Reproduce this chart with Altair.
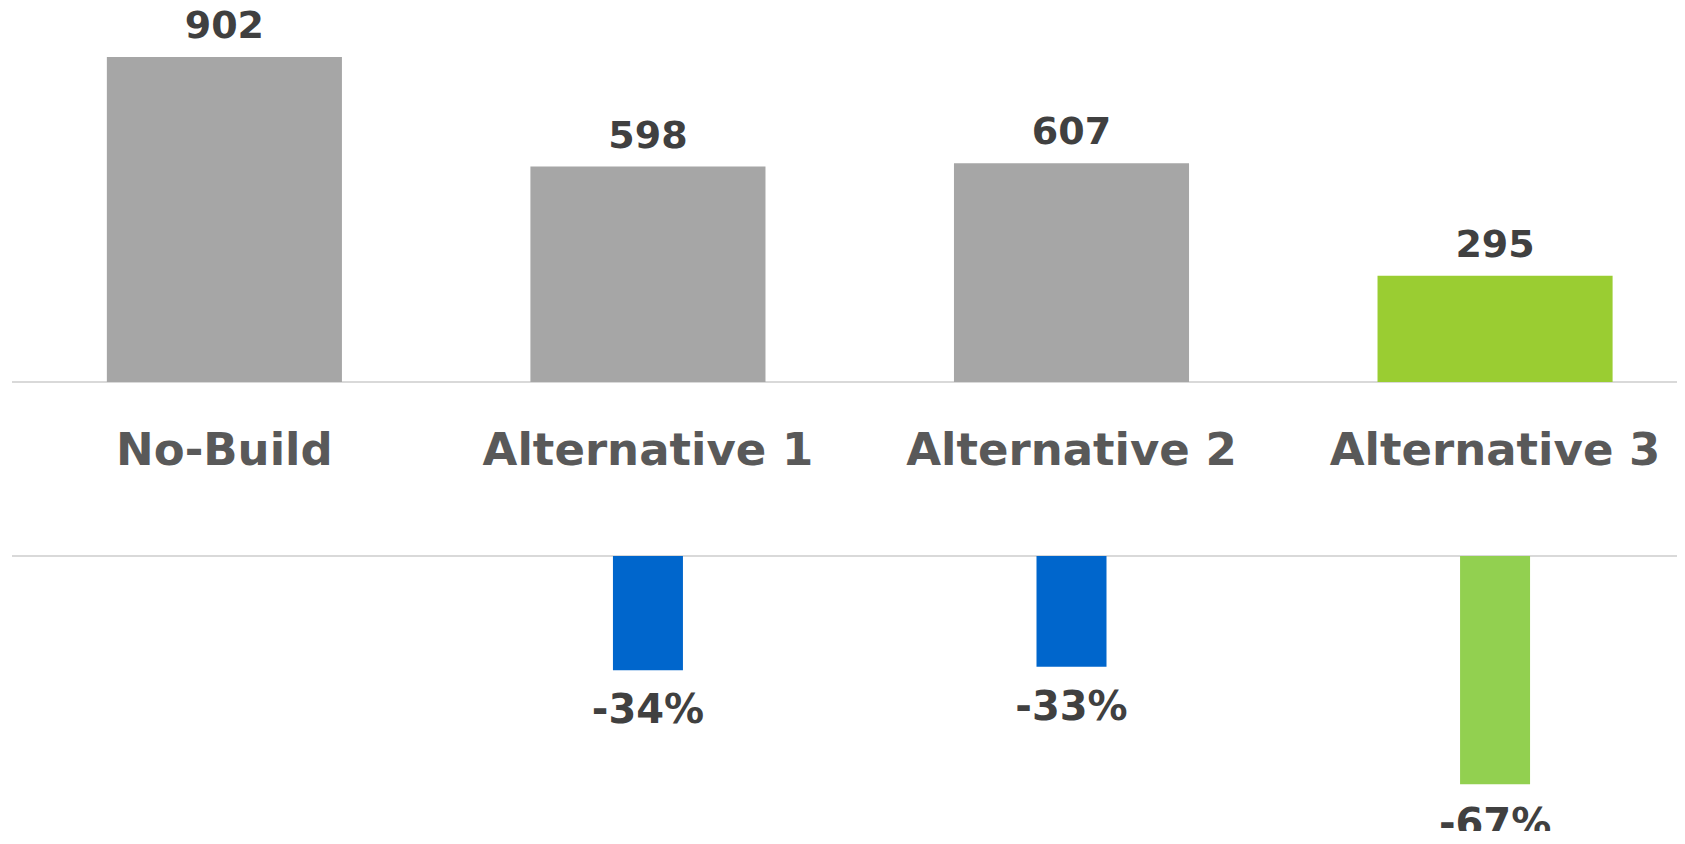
import altair as alt
import pandas as pd

categories = ["No-Build", "Alternative 1", "Alternative 2", "Alternative 3"]
values = [902, 598, 607, 295]
change_categories = ["Alternative 1", "Alternative 2", "Alternative 3"]
change_pct = [-33.7, -32.7, -67.3]
change_labels = ["-34%", "-33%", "-67%"]

top_df = pd.DataFrame({"category": categories, "value": values})
bot_df = pd.DataFrame({"category": change_categories, "pct": change_pct, "label": change_labels})

FONT = "DejaVu Sans"
PAD_TOP = -4
W, H = 1665, 827
TOP_BASE = 374 - PAD_TOP
K_TOP = 0.3603   # px per unit
K_BOT = 3.39     # px per percent
BOT_BASE = 548 - PAD_TOP

top_dom = [-(H - TOP_BASE) / K_TOP, TOP_BASE / K_TOP]
bot_dom = [-(H - BOT_BASE) / K_BOT, BOT_BASE / K_BOT]

xscale = alt.Scale(domain=categories, paddingInner=0.445, paddingOuter=0.188, align=0.5956)
x_plain = alt.X("category:N", sort=categories, scale=xscale, axis=None)

ytop = alt.Y("value:Q", scale=alt.Scale(domain=top_dom, nice=False), axis=None)
top_colors = alt.Color("category:N", scale=alt.Scale(domain=categories,
                       range=["#A6A6A6", "#A6A6A6", "#A6A6A6", "#9ACD32"]), legend=None)

top_base = alt.Chart(top_df)
top_rule = top_base.mark_rule(color="#D9D9D9", strokeWidth=2).encode(
    y=alt.datum(0, scale=alt.Scale(domain=top_dom, nice=False), axis=None))
top_bars = top_base.mark_bar().encode(x=x_plain, y=ytop, color=top_colors)
top_text = top_base.mark_text(dy=-19, baseline="alphabetic", fontSize=38, font=FONT,
                              fontWeight="bold", color="#404040").encode(
    x=x_plain, y=ytop, text="value:Q")
cat_text = top_base.mark_text(dy=83, baseline="alphabetic", fontSize=45, font=FONT,
                              fontWeight="bold", color="#595959").encode(
    x=x_plain, y=alt.datum(0), text="category:N")
top_layer = alt.layer(top_rule, top_bars, top_text, cat_text)

ybot = alt.Y("pct:Q", scale=alt.Scale(domain=bot_dom, nice=False), axis=None)
bot_colors = alt.Color("category:N", scale=alt.Scale(domain=change_categories,
                       range=["#0066CC", "#0066CC", "#92D050"]), legend=None)
bot_base = alt.Chart(bot_df)
bot_rule = bot_base.mark_rule(color="#D9D9D9", strokeWidth=2).encode(
    y=alt.datum(0, scale=alt.Scale(domain=bot_dom, nice=False), axis=None))
bot_bars = bot_base.mark_bar(size=70).encode(x=x_plain, y=ybot, color=bot_colors)
bot_text = bot_base.mark_text(dy=53, baseline="alphabetic", fontSize=40, font=FONT,
                              fontWeight="bold", color="#404040").encode(
    x=x_plain, y=ybot, text="label:N")
bot_layer = alt.layer(bot_rule, bot_bars, bot_text)

chart = (
    alt.layer(top_layer, bot_layer)
    .resolve_scale(y="independent", color="independent")
    .properties(width=W, height=H,
                padding={"left": 4, "top": PAD_TOP, "right": 0, "bottom": 0},
                autosize=alt.AutoSizeParams(type="none"))
    .configure_view(stroke=None)
)

chart.save("out.html", embed_options={"renderer": "svg", "actions": False})
